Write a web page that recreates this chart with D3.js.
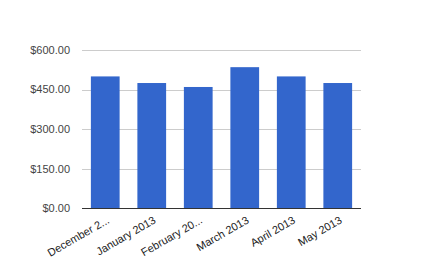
<!DOCTYPE html>
<html><head><meta charset="utf-8">
<script src="https://cdn.jsdelivr.net/npm/d3@7/dist/d3.min.js"></script>
<style>body{margin:0;background:#fff}svg{display:block}text{font-family:"Liberation Sans",Arial,sans-serif}</style>
</head><body><div id="c"></div>
<script>
const categories = ["December 2012","January 2013","February 2013","March 2013","April 2013","May 2013"];
const tickLabels = ["December 2...","January 2013","February 20...","March 2013","April 2013","May 2013"];
const values = [500, 475, 460, 535, 500, 475];
const yTicks = [0, 150, 300, 450, 600];

const W = 442, H = 258;
const m = {left: 82, right: 81, top: 50, bottom: 50};
const svg = d3.select("#c").append("svg").attr("width", W).attr("height", H);
const x = d3.scaleBand().domain(categories).range([m.left, W - m.right]).paddingInner(0.382).paddingOuter(0.191);
const y = d3.scaleLinear().domain([0, 600]).range([208.5, 50]);

const grid = svg.append("g");
grid.selectAll("line").data(yTicks.slice(1)).join("line")
  .attr("x1", m.left).attr("x2", W - m.right)
  .attr("y1", d => Math.round(y(d)) + 0.5).attr("y2", d => Math.round(y(d)) + 0.5)
  .attr("stroke", "#cccccc");

svg.append("g").selectAll("text").data(yTicks).join("text")
  .attr("x", 70).attr("y", d => y(d)).attr("dy", "0.35em")
  .attr("text-anchor", "end").attr("font-size", 11).attr("fill", "#444")
  .text(d => d3.format("$,.2f")(d));

svg.append("g").selectAll("rect").data(values).join("rect")
  .attr("x", (d, i) => x(categories[i])).attr("width", x.bandwidth())
  .attr("y", d => y(d)).attr("height", d => y(0) - y(d))
  .attr("fill", "#3366cc");

svg.append("line").attr("x1", m.left).attr("x2", W - m.right)
  .attr("y1", 208.5).attr("y2", 208.5).attr("stroke", "#333");

svg.append("g").selectAll("text").data(tickLabels).join("text")
  .attr("transform", (d, i) => `translate(${x(categories[i]) + x.bandwidth()/2 + 3},${219}) rotate(-30)`)
  .attr("text-anchor", "end").attr("dy", "0.35em").attr("font-size", 11).attr("fill", "#222")
  .text(d => d);
</script></body></html>
